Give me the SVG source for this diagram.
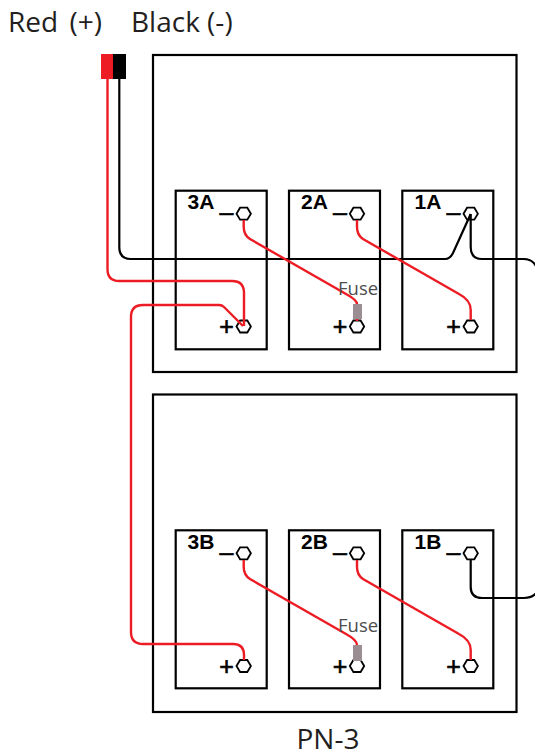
<svg xmlns="http://www.w3.org/2000/svg" width="535" height="756" viewBox="0 0 535 756">
<style>
.title{font-family:"Open Sans","Noto Sans",sans-serif;font-size:28px;fill:#231f20}
.fuse{font-family:"Open Sans","Noto Sans",sans-serif;font-size:18.5px;fill:#4d4d4d}
.label{font-family:"Liberation Sans",Arial,sans-serif;font-size:21px;font-weight:bold;fill:#000}
.sign{font-family:"Liberation Sans",Arial,sans-serif;font-size:25px;fill:#000;stroke:#000;stroke-width:.6;text-anchor:middle}
.box{fill:none;stroke:#000;stroke-width:2.2}
.bat{fill:#fff;stroke:#000;stroke-width:2.2}
.hex{fill:#fff;stroke:#000;stroke-width:1.8}
.red{fill:none;stroke:#ed1c24;stroke-width:2.4}
.blk{fill:none;stroke:#000;stroke-width:2.2}
.fz{fill:#9a8e93}
</style>
<defs>
<polygon id="h" points="-7.2,0 -3.6,-6 3.6,-6 7.2,0 3.6,6 -3.6,6"/>
</defs>
<text class="title" x="8" y="32" word-spacing="4">Red (+)</text>
<text class="title" x="131" y="32">Black (-)</text>
<rect class="box" x="153" y="55" width="363.5" height="317"/>
<rect class="box" x="153" y="394.5" width="363.5" height="317.5"/>
<g id="n3A"><rect class="bat" x="175.7" y="190.7" width="91" height="158.6"/><text class="label" x="187.5" y="209">3A</text><text class="sign" x="226.5" y="221">–</text><text class="sign" x="226.5" y="335">+</text><use href="#h" class="hex" x="243.7" y="213.7"/><use href="#h" class="hex" x="243.7" y="326.5"/></g>
<g id="n2A"><rect class="bat" x="289" y="190.7" width="91" height="158.6"/><text class="label" x="301" y="209">2A</text><text class="sign" x="340" y="221">–</text><text class="sign" x="340" y="335">+</text><use href="#h" class="hex" x="357" y="213.7"/><use href="#h" class="hex" x="357" y="326.5"/></g>
<g id="n1A"><rect class="bat" x="402.3" y="190.7" width="91" height="158.6"/><text class="label" x="414.5" y="209">1A</text><text class="sign" x="453.5" y="221">–</text><text class="sign" x="453.5" y="335">+</text><use href="#h" class="hex" x="470.7" y="213.7"/><use href="#h" class="hex" x="470.7" y="326.5"/></g>
<g id="n3B"><rect class="bat" x="175.7" y="530.3" width="91" height="158"/><text class="label" x="187.5" y="549">3B</text><text class="sign" x="226.5" y="561">–</text><text class="sign" x="226.5" y="674.5">+</text><use href="#h" class="hex" x="243.7" y="553.3"/><use href="#h" class="hex" x="243.7" y="666"/></g>
<g id="n2B"><rect class="bat" x="289" y="530.3" width="91" height="158"/><text class="label" x="301" y="549">2B</text><text class="sign" x="340" y="561">–</text><text class="sign" x="340" y="674.5">+</text><use href="#h" class="hex" x="357" y="553.3"/><use href="#h" class="hex" x="357" y="666"/></g>
<g id="n1B"><rect class="bat" x="402.3" y="530.3" width="91" height="158"/><text class="label" x="414.5" y="549">1B</text><text class="sign" x="453.5" y="561">–</text><text class="sign" x="453.5" y="674.5">+</text><use href="#h" class="hex" x="470.7" y="553.3"/><use href="#h" class="hex" x="470.7" y="666"/></g>
<g id="connectors">
<path class="blk" d="M119.3 78V247Q119.3 259 131 259H445Q450 259 453 253L470.7 214"/>
<path class="blk" d="M470.7 214V247Q470.7 259 482 259H524Q533 259 537 268"/>
<path class="blk" d="M470.7 559.5V587Q470.7 598 482 598H524Q533 598 537 592"/>
<path class="red" d="M107.5 78V269Q107.5 281 119 281H232Q244 281 244 293V326"/>
<path class="red" d="M243 326L224 307Q222 305 219 305H143Q131 305 131 317V632Q131 644 143 644H233Q244 644 244 655V660"/>
<path class="red" d="M243.7 220V227Q243.7 235 250 239L346 294Q357 300 357 304M357 318V321"/>
<path class="red" d="M357 220V227Q357 235 363 239L459 294Q470.7 300 470.7 310V320"/>
<path class="red" d="M243.7 560V567Q243.7 575 250 579L346 634Q357 640 357 645"/>
<path class="red" d="M357 560V567Q357 575 363 579L459 634Q470.7 640 470.7 650V660"/>
</g>
<g id="plug"><rect x="101" y="54" width="12" height="25" fill="#ed1c24"/><rect x="113" y="54" width="13" height="25" fill="#000"/></g>
<g id="fuseA"><rect class="fz" x="353" y="304" width="9" height="15"/><text class="fuse" x="338" y="295">Fuse</text></g>
<g id="fuseB"><rect class="fz" x="353" y="645" width="9" height="16"/><text class="fuse" x="338" y="632">Fuse</text></g>
<text class="title" x="328" y="749" text-anchor="middle">PN-3</text>
</svg>
